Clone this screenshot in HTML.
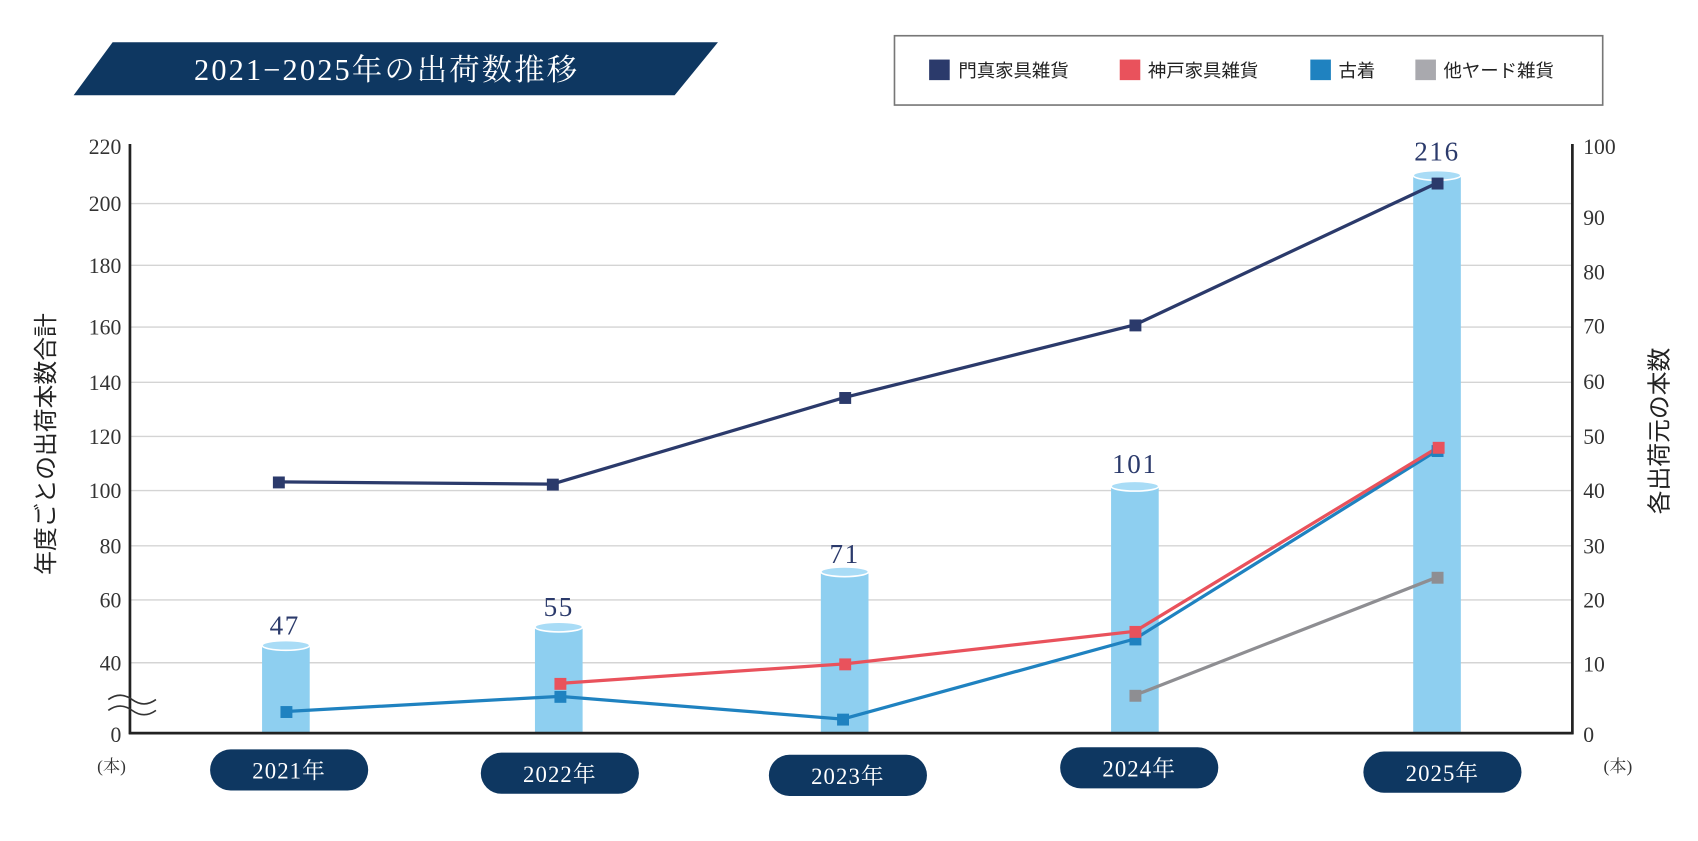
<!DOCTYPE html>
<html><head><meta charset="utf-8"><style>
html,body{margin:0;padding:0;background:#fff;}
svg{display:block;}
text{font-family:"Liberation Serif","Noto Serif CJK SC",serif;}
.s{font-family:"Liberation Sans","Noto Sans CJK JP",sans-serif;}
</style></head><body>
<svg width="1698" height="841" viewBox="0 0 1568 776.6" preserveAspectRatio="none" xmlns="http://www.w3.org/2000/svg">
<polygon points="104,39 663,39 623,88 68,88" fill="#0e3761"/>
<text x="357" y="74" fill="#fff" font-size="28" text-anchor="middle" letter-spacing="2">2021−2025年の出荷数推移</text>
<rect x="826" y="33" width="654" height="64" fill="#fff" stroke="#777" stroke-width="1.5"/>
<rect x="858" y="55" width="19" height="19" fill="#2b3a6b"/><text class="s" x="885" y="71" font-size="17" fill="#222">門真家具雑貨</text>
<rect x="1034" y="55" width="19" height="19" fill="#e9525c"/><text class="s" x="1060" y="71" font-size="17" fill="#222">神戸家具雑貨</text>
<rect x="1210" y="55" width="19" height="19" fill="#1f82c0"/><text class="s" x="1236" y="71" font-size="17" fill="#222">古着</text>
<rect x="1307" y="55" width="19" height="19" fill="#a9a9ae"/><text class="s" x="1333" y="71" font-size="17" fill="#222">他ヤード雑貨</text>
<g stroke="#d4d4d4" stroke-width="1.3">
<line x1="121" x2="1452" y1="188" y2="188"/><line x1="121" x2="1452" y1="245" y2="245"/>
<line x1="121" x2="1452" y1="302" y2="302"/><line x1="121" x2="1452" y1="353" y2="353"/>
<line x1="121" x2="1452" y1="403" y2="403"/><line x1="121" x2="1452" y1="453" y2="453"/>
<line x1="121" x2="1452" y1="504" y2="504"/><line x1="121" x2="1452" y1="554" y2="554"/>
<line x1="121" x2="1452" y1="612" y2="612"/>
</g>
<g fill="#8ecff0">
<rect x="242" y="596" width="44" height="81"/><rect x="494" y="579" width="44" height="98"/>
<rect x="758" y="528" width="44" height="149"/><rect x="1026" y="449" width="44" height="228"/>
<rect x="1305" y="162" width="44" height="515"/>
</g>
<g fill="#a9dcf6" stroke="#fff" stroke-width="1.5">
<ellipse cx="264" cy="596" rx="22" ry="4.5"/><ellipse cx="516" cy="579" rx="22" ry="4.5"/>
<ellipse cx="780" cy="528" rx="22" ry="4.5"/><ellipse cx="1048" cy="449" rx="22" ry="4.5"/>
<ellipse cx="1327" cy="162" rx="22" ry="4.5"/>
</g>
<g fill="#2b3a6b" font-size="25" text-anchor="middle" letter-spacing="1.5">
<text x="263" y="586">47</text><text x="516" y="569">55</text><text x="780" y="520">71</text><text x="1048" y="437">101</text><text x="1327" y="148">216</text>
</g>
<g fill="none" stroke-width="3">
<polyline stroke="#2b3a6b" points="257,445 510,447 780,367 1048,300 1327,169"/>
<polyline stroke="#1f82c0" points="264,657 517,643 778,664 1048,590 1327,416"/>
<polyline stroke="#e9525c" points="517,631 780,613 1048,583 1328,413"/>
<polyline stroke="#8e8e92" points="1048,642 1327,533"/>
</g>
<g fill="#2b3a6b"><rect x="252" y="440" width="11" height="11"/><rect x="505" y="442" width="11" height="11"/><rect x="775" y="362" width="11" height="11"/><rect x="1043" y="295" width="11" height="11"/><rect x="1322" y="164" width="11" height="11"/></g>
<g fill="#1f82c0"><rect x="259" y="652" width="11" height="11"/><rect x="512" y="638" width="11" height="11"/><rect x="773" y="659" width="11" height="11"/><rect x="1043" y="585" width="11" height="11"/><rect x="1322" y="411" width="11" height="11"/></g>
<g fill="#e9525c"><rect x="512" y="626" width="11" height="11"/><rect x="775" y="608" width="11" height="11"/><rect x="1043" y="578" width="11" height="11"/><rect x="1323" y="408" width="11" height="11"/></g>
<g fill="#8e8e92"><rect x="1043" y="637" width="11" height="11"/><rect x="1322" y="528" width="11" height="11"/></g>
<g stroke="#222" stroke-width="2.5" fill="none">
<line x1="120" y1="133" x2="120" y2="678"/><line x1="1452" y1="133" x2="1452" y2="678"/><line x1="119" y1="677" x2="1453" y2="677"/>
</g>
<g stroke="#333" stroke-width="1.5" fill="none">
<path d="M100,646 q11,-8 22,0 t22,0"/><path d="M100,656 q11,-8 22,0 t22,0"/>
</g>
<g fill="#333" font-size="20" text-anchor="end">
<text x="112" y="142">220</text><text x="112" y="195">200</text><text x="112" y="252">180</text><text x="112" y="309">160</text><text x="112" y="360">140</text><text x="112" y="410">120</text><text x="112" y="460">100</text><text x="112" y="511">80</text><text x="112" y="561">60</text><text x="112" y="619">40</text><text x="112" y="685">0</text>
</g>
<g fill="#333" font-size="20">
<text x="1462" y="142">100</text><text x="1462" y="208">90</text><text x="1462" y="258">80</text><text x="1462" y="308">70</text><text x="1462" y="359">60</text><text x="1462" y="410">50</text><text x="1462" y="460">40</text><text x="1462" y="511">30</text><text x="1462" y="561">20</text><text x="1462" y="620">10</text><text x="1462" y="685">0</text>
</g>
<text x="103" y="713" font-size="16" fill="#333" text-anchor="middle">(本)</text>
<text x="1494" y="713" font-size="16" fill="#333" text-anchor="middle">(本)</text>
<text class="s" transform="translate(50,410) rotate(-90)" font-size="22" fill="#222" text-anchor="middle">年度ごとの出荷本数合計</text>
<text class="s" transform="translate(1540,398) rotate(-90)" font-size="22" fill="#222" text-anchor="middle">各出荷元の本数</text>
<g fill="#0e3761">
<rect x="194" y="692" width="146" height="38" rx="19"/><rect x="444" y="695" width="146" height="38" rx="19"/>
<rect x="710" y="697" width="146" height="38" rx="19"/><rect x="979" y="690" width="146" height="38" rx="19"/>
<rect x="1259" y="694" width="146" height="38" rx="19"/>
</g>
<g fill="#fff" font-size="21" text-anchor="middle" letter-spacing="1">
<text x="267" y="719">2021年</text><text x="517" y="722">2022年</text><text x="783" y="724">2023年</text><text x="1052" y="717">2024年</text><text x="1332" y="721">2025年</text>
</g>
</svg>
</body></html>
